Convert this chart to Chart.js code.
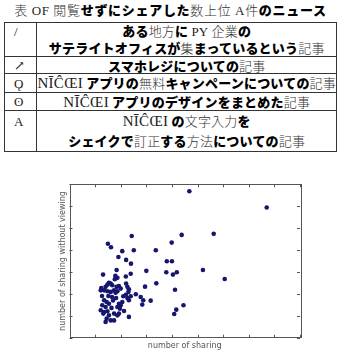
<!DOCTYPE html>
<html>
<head>
<meta charset="utf-8">
<script src="https://cdn.jsdelivr.net/npm/chart.js@4/dist/chart.umd.min.js"></script>
<style>
  html, body { margin:0; padding:0; background:#fff; width:341px; height:353px; overflow:hidden; }
  body { position:relative; font-family:"Noto Sans CJK JP", sans-serif; color:#111; }
  .k { font-weight:900; color:#000; }
  .j { font-weight:300; color:#333; }
  .s { font-family:"Liberation Serif", "DejaVu Serif", serif; font-weight:400; color:#222; }
  #title { position:absolute; left:0; width:341px; top:1px; text-align:center; font-size:13px; line-height:18px; white-space:nowrap; letter-spacing:0.7px; }
  table { position:absolute; left:4px; top:22px; width:333px; border-collapse:collapse; font-size:13px; }
  td { border:1px solid #333; padding:0; white-space:nowrap; }
  td.n { width:24px; text-align:left; padding-left:9px; vertical-align:top; }
  td.t { text-align:center; letter-spacing:0.2px; }
  .nic { font-family:"Liberation Serif", serif; font-size:15px; letter-spacing:0.3px; color:#222; }
  #chartwrap { position:absolute; left:0; top:170px; width:341px; height:183px; }
</style>
</head>
<body>
<div id="title"><span class="j">表</span> <span class="s">OF</span> <span class="j">閲覧</span><span class="k">せずにシェアした</span><span class="j">数上位</span> <span class="s">A</span><span class="j">件</span><span class="k">のニュース</span></div>
<table>
  <tr style="height:32px;line-height:16px;"><td class="n"><span class="s">/</span></td><td class="t"><span class="k">ある</span><span class="j">地方</span><span class="k">に</span> <span class="s">PY</span> <span class="j">企業</span><span class="k">の</span><br><span class="k">サテライトオフィスが</span><span class="j">集</span><span class="k">まっているという</span><span class="j">記事</span></td></tr>
  <tr style="height:16px;line-height:15px;"><td class="n"><span class="s">↗</span></td><td class="t"><span class="k">スマホレジについての</span><span class="j">記事</span></td></tr>
  <tr style="height:18px;line-height:17px;"><td class="n"><span class="s">Ǫ</span></td><td class="t"><span class="nic">NĪĈŒI</span> <span class="k">アプリの</span><span class="j">無料</span><span class="k">キャンペーンについての</span><span class="j">記事</span></td></tr>
  <tr style="height:17px;line-height:16px;"><td class="n"><span class="s">ʘ</span></td><td class="t"><span class="nic">NĪĈŒI</span> <span class="k">アプリのデザインをまとめた</span><span class="j">記事</span></td></tr>
  <tr style="height:41px;line-height:20px;"><td class="n"><span class="s">A</span></td><td class="t"><span class="nic">NĪĈŒI</span> <span class="k">の</span><span class="j">文字入力</span><span class="k">を</span><br><span class="k">シェイクで</span><span class="j">訂正</span><span class="k">する</span><span class="j">方法</span><span class="k">について</span><span class="k">の</span><span class="j">記事</span></td></tr>
</table>
<div id="chartwrap"><canvas id="c" width="341" height="183"></canvas></div>
<script>
// number of sharing (x) and number of sharing without viewing (y)
const sharingCount = [
  46.8, 77.0, 56.3, 43.8, 24.3, 15.0, 16.2, 39.9, 20.6, 25.1,
  33.7, 19.1, 22.1, 38.0, 40.0, 24.0, 18.4, 30.0, 37.8, 52.1,
  41.9, 40.4, 13.1, 60.6, 23.9, 22.0, 17.9, 18.7, 17.7, 33.9,
  15.4, 14.8, 16.1, 16.7, 14.1, 12.4, 12.2, 13.5, 14.8, 16.1,
  17.4, 18.0, 18.7, 19.3, 18.4, 20.0, 22.6, 23.2, 23.0, 22.0,
  21.0, 23.9, 22.6, 23.2, 25.9, 27.8, 28.8, 31.7, 28.4, 13.5,
  14.5, 15.4, 12.8, 14.1, 12.2, 13.5, 14.8, 13.2, 15.4, 14.5,
  14.1, 19.3, 20.0, 20.6, 18.7, 19.7, 17.4, 18.7, 19.3, 16.1,
  17.4, 23.2, 44.5, 41.7, 40.9, 41.2, 29.5, 16.6, 15.2, 17.0,
  16.4, 21.3, 18.2, 12.7, 22.1
];
const sharingWithoutViewing = [
  66.8, 59.4, 47.4, 46.9, 46.4, 42.9, 41.3, 43.4, 39.5, 39.9,
  39.9, 36.8, 35.5, 34.9, 34.9, 33.8, 30.9, 30.5, 29.9, 30.9,
  29.9, 28.8, 28.8, 26.8, 29.2, 27.9, 28.2, 27.3, 26.7, 24.8,
  25.1, 24.2, 24.7, 23.9, 23.2, 22.7, 21.6, 21.6, 21.2, 20.9,
  21.6, 20.5, 21.2, 23.6, 23.2, 22.4, 23.2, 22.1, 20.9, 19.6,
  18.9, 18.9, 18.1, 17.1, 19.8, 18.6, 17.1, 16.9, 15.1, 17.1,
  16.3, 15.5, 14.8, 14.0, 12.5, 11.7, 12.1, 11.0, 10.2, 8.7,
  7.2, 15.5, 14.8, 16.3, 14.0, 13.2, 11.0, 10.2, 11.0, 7.9,
  7.9, 9.5, 14.8, 12.8, 10.8, 21.9, 23.3, 18.6, 19.0, 17.0,
  13.6, 12.2, 18.1, 19.0, 24.7
];
const xRange = [0, 90];
const yRange = [0, 70];
const xTitle = 'number of sharing';
const yTitle = 'number of sharing without viewing';

const points = sharingCount.map((x, i) => ({ x: x, y: sharingWithoutViewing[i] }));

const boxTicks = {
  id: 'boxTicks',
  afterDatasetsDraw(chart) {
    const { ctx, chartArea: a, scales: { x, y } } = chart;
    ctx.save();
    ctx.strokeStyle = '#555';
    ctx.lineWidth = 1;
    ctx.strokeRect(Math.round(a.left) + 0.5, Math.round(a.top) + 0.5, Math.round(a.right - a.left), Math.round(a.bottom - a.top));
    ctx.beginPath();
    const L = 3;
    x.ticks.forEach(t => {
      const px = Math.round(x.getPixelForValue(t.value)) + 0.5;
      ctx.moveTo(px, a.bottom); ctx.lineTo(px, a.bottom - L);
      ctx.moveTo(px, a.top); ctx.lineTo(px, a.top + L);
    });
    y.ticks.forEach(t => {
      const py = Math.round(y.getPixelForValue(t.value)) + 0.5;
      ctx.moveTo(a.left, py); ctx.lineTo(a.left + L, py);
      ctx.moveTo(a.right, py); ctx.lineTo(a.right - L, py);
    });
    ctx.stroke();
    ctx.restore();
  }
};

new Chart(document.getElementById('c'), {
  type: 'scatter',
  data: { datasets: [{ data: points, backgroundColor: '#16166e', borderWidth: 0, pointRadius: 2.3, pointHoverRadius: 2.3 }] },
  options: {
    responsive: false,
    animation: false,
    events: [],
    layout: { padding: { left: 55, top: 14.3, right: 41, bottom: 0 } },
    plugins: { legend: { display: false }, tooltip: { enabled: false } },
    scales: {
      x: {
        type: 'linear', min: xRange[0], max: xRange[1],
        ticks: { display: false, stepSize: 10 },
        grid: { display: false }, border: { display: false },
        title: { display: true, text: xTitle, color: '#555', font: { size: 8, family: 'DejaVu Sans' }, padding: { top: 0, bottom: 2.5 } },
        afterFit(s) { s.height = 15.3; }
      },
      y: {
        type: 'linear', min: yRange[0], max: yRange[1],
        ticks: { display: false, stepSize: 10 },
        grid: { display: false }, border: { display: false },
        title: { display: true, text: yTitle, color: '#555', font: { size: 8, family: 'DejaVu Sans' }, padding: { top: 3, bottom: 0 } },
        afterFit(s) { s.width = 14.5; }
      }
    }
  },
  plugins: [boxTicks]
});
</script>
</body>
</html>
